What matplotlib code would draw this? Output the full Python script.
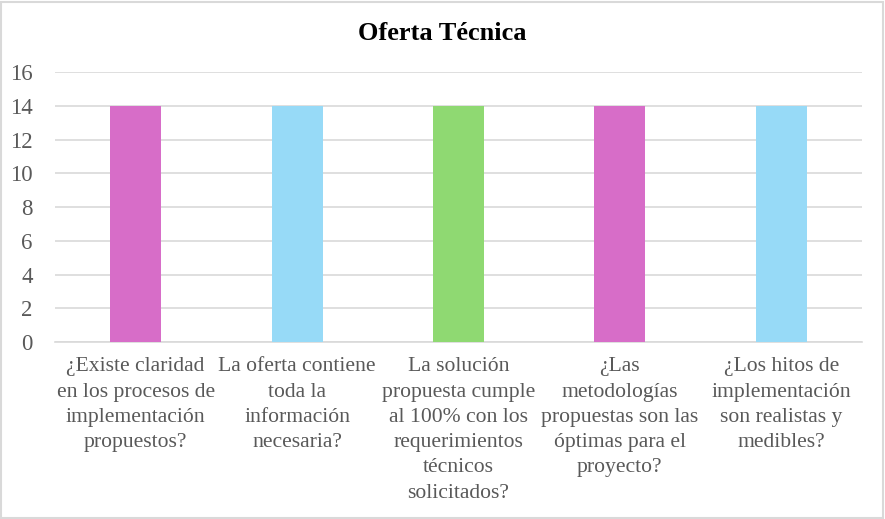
import matplotlib.pyplot as plt
from matplotlib.patches import Rectangle

# Data
categories = [
    "¿Existe claridad\nen los procesos de\nimplementación\npropuestos?",
    "La oferta contiene\ntoda la\ninformación\nnecesaria?",
    "La solución\npropuesta cumple\nal 100% con los\nrequerimientos\ntécnicos\nsolicitados?",
    "¿Las\nmetodologías\npropuestas son las\nóptimas para el\nproyecto?",
    "¿Los hitos de\nimplementación\nson realistas y\nmedibles?",
]
values = [14, 14, 14, 14, 14]
colors = ["#D76DC8", "#97DAF7", "#8FD972", "#D76DC8", "#97DAF7"]

plt.rcParams['font.family'] = ['Liberation Serif', 'DejaVu Serif']

fig = plt.figure(figsize=(8.85, 5.19), dpi=100)
ax = fig.add_axes([0.062, 0.341, 0.912, 0.520])

x = range(len(categories))
ax.bar(x, values, width=0.316, color=colors, zorder=3)

ax.set_ylim(0, 16)
ax.set_yticks(range(0, 17, 2))
ax.set_xlim(-0.5, len(categories) - 0.5)
ax.set_xticks(list(x))
ax.set_xticklabels(categories, fontsize=15.6, color="#595959", linespacing=1.45)
ax.tick_params(axis='y', labelsize=16.5, labelcolor="#595959", length=0, pad=16)
ax.tick_params(axis='x', length=0, pad=11)
ax.grid(axis='y', color="#D9D9D9", linewidth=1.2, zorder=0)
for s in ['top', 'right', 'left']:
    ax.spines[s].set_visible(False)
ax.spines['bottom'].set_color("#D9D9D9")
ax.spines['bottom'].set_linewidth(1.2)

fig.text(0.5, 0.935, "Oferta Técnica", ha='center', va='center',
         fontsize=19, fontweight='bold', color='black')

# light border around the chart
fig.patches.append(Rectangle((0.001, 0.002), 0.997, 0.995, transform=fig.transFigure,
                             fill=False, edgecolor="#D9D9D9", linewidth=1.5))

fig.savefig('out.png', dpi=100)
